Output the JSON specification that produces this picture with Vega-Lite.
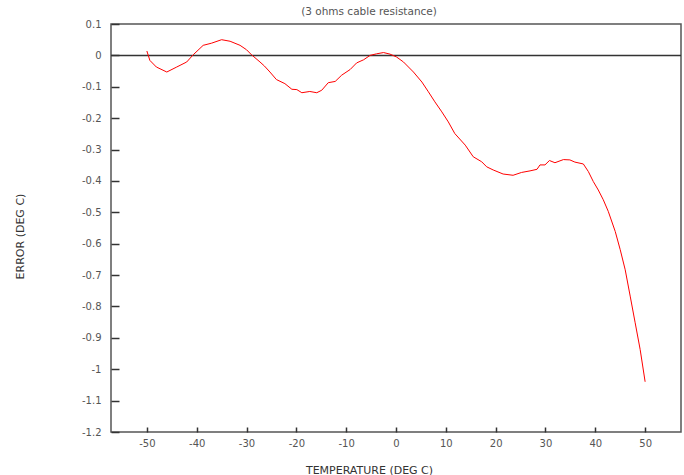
{
  "$schema": "https://vega.github.io/schema/vega-lite/v6.json",
  "width": 570,
  "height": 408,
  "autosize": "none",
  "padding": {"left": 111, "top": 24, "right": 3, "bottom": 43},
  "background": "white",
  "title": {"text": "(3 ohms cable resistance)", "fontSize": 10.5, "font": "DejaVu Sans", "fontWeight": "normal", "color": "#555", "offset": 2, "anchor": "middle", "dx": -27},
  "config": {
    "view": {"stroke": "#555", "strokeWidth": 1.5},
    "axis": {"labelFont": "DejaVu Sans", "titleFont": "DejaVu Sans", "labelFontSize": 10, "titleFontSize": 11, "labelColor": "#555", "titleColor": "#333", "titleFontWeight": "normal", "grid": false, "domain": false, "tickColor": "#333", "tickWidth": 1.5}
  },
  "encoding": {
    "y": {"field": "error", "type": "quantitative", "title": "ERROR (DEG C)",
      "scale": {"domain": [-1.2, 0.1], "nice": false, "zero": false},
      "axis": {"values": [0.1, 0, -0.1, -0.2, -0.3, -0.4, -0.5, -0.6, -0.7, -0.8, -0.9, -1, -1.1, -1.2], "tickSize": -8, "labelPadding": 18, "labelExpr": "toString(round(datum.value*10)/10)", "titlePadding": 56, "titleY": 212}}
  },
  "layer": [
    {
      "data": {"values": [{"error": 0}]},
      "mark": {"type": "rule", "color": "#333", "strokeWidth": 1.5}
    },
    {
      "data": {"values": [
        {"temp": -50, "error": 0.014},
        {"temp": -49.4, "error": -0.016},
        {"temp": -48.1, "error": -0.037},
        {"temp": -46.0, "error": -0.053},
        {"temp": -44.0, "error": -0.037},
        {"temp": -42.0, "error": -0.021},
        {"temp": -40.7, "error": 0.002},
        {"temp": -38.7, "error": 0.032},
        {"temp": -37.0, "error": 0.039},
        {"temp": -35.0, "error": 0.05},
        {"temp": -33.3, "error": 0.045},
        {"temp": -31.3, "error": 0.032},
        {"temp": -30.0, "error": 0.018},
        {"temp": -29.0, "error": 0.002},
        {"temp": -27.3, "error": -0.021},
        {"temp": -26.4, "error": -0.034},
        {"temp": -25.3, "error": -0.053},
        {"temp": -24.0, "error": -0.077},
        {"temp": -22.3, "error": -0.09},
        {"temp": -20.9, "error": -0.108},
        {"temp": -19.9, "error": -0.109},
        {"temp": -18.9, "error": -0.119},
        {"temp": -17.3, "error": -0.115},
        {"temp": -15.9, "error": -0.119},
        {"temp": -14.9, "error": -0.111},
        {"temp": -13.6, "error": -0.087},
        {"temp": -12.2, "error": -0.083},
        {"temp": -10.9, "error": -0.063},
        {"temp": -9.2, "error": -0.045},
        {"temp": -7.9, "error": -0.024},
        {"temp": -6.5, "error": -0.014},
        {"temp": -5.2, "error": 0.0},
        {"temp": -3.9, "error": 0.005},
        {"temp": -2.5, "error": 0.009},
        {"temp": -1.2, "error": 0.004},
        {"temp": 0.1, "error": -0.005},
        {"temp": 1.5, "error": -0.021},
        {"temp": 3.5, "error": -0.053},
        {"temp": 5.2, "error": -0.085},
        {"temp": 6.5, "error": -0.116},
        {"temp": 7.8, "error": -0.148},
        {"temp": 9.2, "error": -0.18},
        {"temp": 10.5, "error": -0.212},
        {"temp": 11.8, "error": -0.249},
        {"temp": 13.9, "error": -0.286},
        {"temp": 15.5, "error": -0.323},
        {"temp": 17.2, "error": -0.339},
        {"temp": 18.2, "error": -0.355},
        {"temp": 19.5, "error": -0.365},
        {"temp": 21.5, "error": -0.378},
        {"temp": 23.5, "error": -0.382},
        {"temp": 25.2, "error": -0.373},
        {"temp": 26.9, "error": -0.368},
        {"temp": 28.3, "error": -0.363},
        {"temp": 28.9, "error": -0.349},
        {"temp": 29.9, "error": -0.349},
        {"temp": 30.8, "error": -0.335},
        {"temp": 31.9, "error": -0.342},
        {"temp": 33.6, "error": -0.332},
        {"temp": 34.9, "error": -0.333},
        {"temp": 35.9, "error": -0.34},
        {"temp": 37.6, "error": -0.346},
        {"temp": 38.6, "error": -0.37},
        {"temp": 39.6, "error": -0.402},
        {"temp": 40.6, "error": -0.429},
        {"temp": 41.6, "error": -0.46},
        {"temp": 42.6, "error": -0.497},
        {"temp": 44.0, "error": -0.561},
        {"temp": 45.0, "error": -0.619},
        {"temp": 46.0, "error": -0.683},
        {"temp": 47.0, "error": -0.767},
        {"temp": 48.0, "error": -0.852},
        {"temp": 49.0, "error": -0.937},
        {"temp": 50.0, "error": -1.04}
      ]},
      "mark": {"type": "line", "color": "#ff0000", "strokeWidth": 1},
      "encoding": {
        "x": {"field": "temp", "type": "quantitative", "title": "TEMPERATURE (DEG C)",
          "scale": {"domain": [-57.2, 57.2], "nice": false, "zero": false},
          "axis": {"values": [-50, -40, -30, -20, -10, 0, 10, 20, 30, 40, 50], "tickSize": -5, "labelPadding": 11, "labelExpr": "toString(datum.value)", "titlePadding": 16, "titleX": 258}}
      }
    }
  ]
}
